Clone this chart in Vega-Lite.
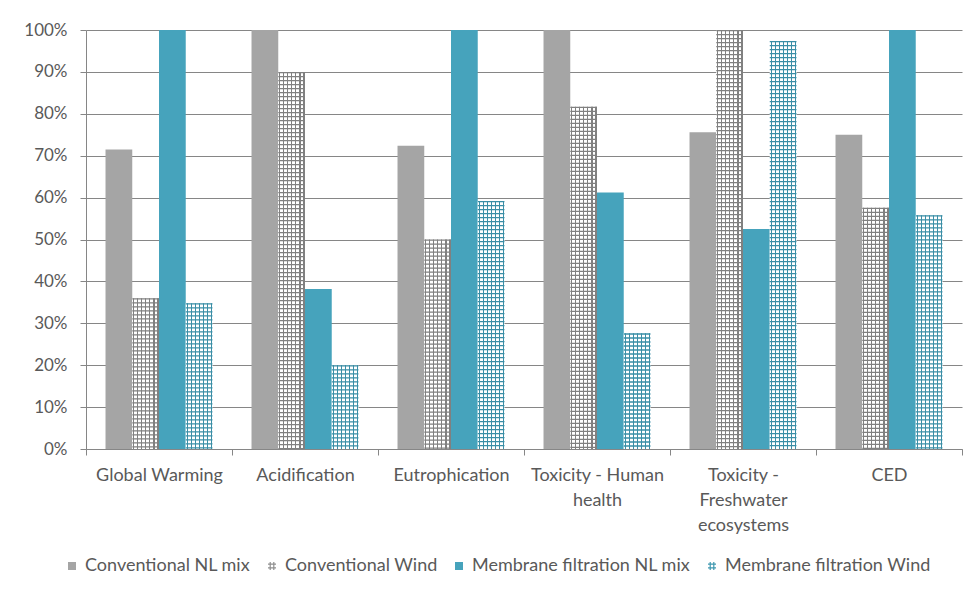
{
  "$schema": "https://vega.github.io/schema/vega-lite/v6.json",
  "width": 876,
  "height": 419,
  "autosize": {"type": "none"},
  "padding": {"left": 86, "top": 30, "right": 10, "bottom": 145},
  "background": "white",
  "data": {
    "values": [
      {"impact": "Global Warming", "series": "Conventional NL mix", "value": 0.715},
      {"impact": "Global Warming", "series": "Conventional Wind", "value": 0.36},
      {"impact": "Global Warming", "series": "Membrane filtration NL mix", "value": 1.0},
      {"impact": "Global Warming", "series": "Membrane filtration Wind", "value": 0.348},
      {"impact": "Acidification", "series": "Conventional NL mix", "value": 1.0},
      {"impact": "Acidification", "series": "Conventional Wind", "value": 0.9},
      {"impact": "Acidification", "series": "Membrane filtration NL mix", "value": 0.382},
      {"impact": "Acidification", "series": "Membrane filtration Wind", "value": 0.2},
      {"impact": "Eutrophication", "series": "Conventional NL mix", "value": 0.724},
      {"impact": "Eutrophication", "series": "Conventional Wind", "value": 0.5},
      {"impact": "Eutrophication", "series": "Membrane filtration NL mix", "value": 1.0},
      {"impact": "Eutrophication", "series": "Membrane filtration Wind", "value": 0.592},
      {"impact": "Toxicity - Human health", "series": "Conventional NL mix", "value": 1.0},
      {"impact": "Toxicity - Human health", "series": "Conventional Wind", "value": 0.817},
      {"impact": "Toxicity - Human health", "series": "Membrane filtration NL mix", "value": 0.612},
      {"impact": "Toxicity - Human health", "series": "Membrane filtration Wind", "value": 0.276},
      {"impact": "Toxicity - Freshwater ecosystems", "series": "Conventional NL mix", "value": 0.756},
      {"impact": "Toxicity - Freshwater ecosystems", "series": "Conventional Wind", "value": 1.0},
      {"impact": "Toxicity - Freshwater ecosystems", "series": "Membrane filtration NL mix", "value": 0.525},
      {"impact": "Toxicity - Freshwater ecosystems", "series": "Membrane filtration Wind", "value": 0.974},
      {"impact": "CED", "series": "Conventional NL mix", "value": 0.75},
      {"impact": "CED", "series": "Conventional Wind", "value": 0.576},
      {"impact": "CED", "series": "Membrane filtration NL mix", "value": 1.0},
      {"impact": "CED", "series": "Membrane filtration Wind", "value": 0.558}
    ]
  },
  "encoding": {
    "x": {
      "field": "impact",
      "type": "nominal",
      "sort": ["Global Warming", "Acidification", "Eutrophication", "Toxicity - Human health", "Toxicity - Freshwater ecosystems", "CED"],
      "scale": {"paddingInner": 0, "paddingOuter": 0},
      "axis": {
        "title": null,
        "labelAngle": 0,
        "tickBand": "extent",
        "tickSize": 6,
        "tickColor": "#868686",
        "domainColor": "#868686",
        "labelPadding": 11,
        "labelFontSize": 18,
        "labelLineHeight": 25,
        "labelExpr": "datum.value == 'Toxicity - Human health' ? ['Toxicity - Human', 'health'] : datum.value == 'Toxicity - Freshwater ecosystems' ? ['Toxicity -', 'Freshwater', 'ecosystems'] : datum.value",
        "grid": false
      }
    },
    "xOffset": {
      "field": "series",
      "type": "nominal",
      "scale": {
        "domain": ["Conventional NL mix", "Conventional Wind", "Membrane filtration NL mix", "Membrane filtration Wind"],
        "paddingInner": 0,
        "paddingOuter": 0.73
      }
    },
    "y": {
      "field": "value",
      "type": "quantitative",
      "scale": {"domain": [0, 1], "nice": false},
      "axis": {
        "title": null,
        "values": [0, 0.1, 0.2, 0.3, 0.4, 0.5, 0.6, 0.7, 0.8, 0.9, 1.0],
        "format": ".0%",
        "tickSize": 6,
        "tickColor": "#868686",
        "domainColor": "#868686",
        "labelPadding": 13,
        "gridColor": "#868686",
        "gridWidth": 1
      }
    }
  },
  "layer": [
    {
      "transform": [{"filter": "indexof(datum.series, 'NL mix') >= 0"}],
      "mark": {"type": "bar"},
      "encoding": {
        "fill": {
          "condition": {"test": "datum.series === 'Conventional NL mix'", "value": "#a5a5a5"},
          "value": "#46a3bc"
        }
      }
    },
    {
      "transform": [{"filter": "datum.series === 'Conventional Wind'"}],
      "mark": {
        "type": "bar",
        "fill": {
          "gradient": "linear", "x1": 0, "y1": 0, "x2": 1, "y2": 0,
          "stops": [
            {"offset": 0, "color": "#ffffff"},
            {"offset": 0.034, "color": "#ffffff"}, {"offset": 0.034, "color": "#808080"}, {"offset": 0.082, "color": "#808080"}, {"offset": 0.082, "color": "#ffffff"},
            {"offset": 0.184, "color": "#ffffff"}, {"offset": 0.184, "color": "#808080"}, {"offset": 0.232, "color": "#808080"}, {"offset": 0.232, "color": "#ffffff"},
            {"offset": 0.334, "color": "#ffffff"}, {"offset": 0.334, "color": "#808080"}, {"offset": 0.382, "color": "#808080"}, {"offset": 0.382, "color": "#ffffff"},
            {"offset": 0.484, "color": "#ffffff"}, {"offset": 0.484, "color": "#808080"}, {"offset": 0.532, "color": "#808080"}, {"offset": 0.532, "color": "#ffffff"},
            {"offset": 0.634, "color": "#ffffff"}, {"offset": 0.634, "color": "#808080"}, {"offset": 0.682, "color": "#808080"}, {"offset": 0.682, "color": "#ffffff"},
            {"offset": 0.784, "color": "#ffffff"}, {"offset": 0.784, "color": "#808080"}, {"offset": 0.832, "color": "#808080"}, {"offset": 0.832, "color": "#ffffff"},
            {"offset": 0.934, "color": "#ffffff"}, {"offset": 0.934, "color": "#808080"}, {"offset": 0.982, "color": "#808080"}, {"offset": 0.982, "color": "#ffffff"},
            {"offset": 1, "color": "#ffffff"}
          ]
        }
      }
    },
    {
      "transform": [{"filter": "datum.series === 'Membrane filtration Wind'"}],
      "mark": {
        "type": "bar",
        "fill": {
          "gradient": "linear", "x1": 0, "y1": 0, "x2": 1, "y2": 0,
          "stops": [
            {"offset": 0, "color": "#ffffff"},
            {"offset": 0.034, "color": "#ffffff"}, {"offset": 0.034, "color": "#3a8ea6"}, {"offset": 0.082, "color": "#3a8ea6"}, {"offset": 0.082, "color": "#ffffff"},
            {"offset": 0.184, "color": "#ffffff"}, {"offset": 0.184, "color": "#3a8ea6"}, {"offset": 0.232, "color": "#3a8ea6"}, {"offset": 0.232, "color": "#ffffff"},
            {"offset": 0.334, "color": "#ffffff"}, {"offset": 0.334, "color": "#3a8ea6"}, {"offset": 0.382, "color": "#3a8ea6"}, {"offset": 0.382, "color": "#ffffff"},
            {"offset": 0.484, "color": "#ffffff"}, {"offset": 0.484, "color": "#3a8ea6"}, {"offset": 0.532, "color": "#3a8ea6"}, {"offset": 0.532, "color": "#ffffff"},
            {"offset": 0.634, "color": "#ffffff"}, {"offset": 0.634, "color": "#3a8ea6"}, {"offset": 0.682, "color": "#3a8ea6"}, {"offset": 0.682, "color": "#ffffff"},
            {"offset": 0.784, "color": "#ffffff"}, {"offset": 0.784, "color": "#3a8ea6"}, {"offset": 0.832, "color": "#3a8ea6"}, {"offset": 0.832, "color": "#ffffff"},
            {"offset": 0.934, "color": "#ffffff"}, {"offset": 0.934, "color": "#3a8ea6"}, {"offset": 0.982, "color": "#3a8ea6"}, {"offset": 0.982, "color": "#ffffff"},
            {"offset": 1, "color": "#ffffff"}
          ]
        }
      }
    },
    {
      "transform": [{"filter": "indexof(datum.series, 'Wind') >= 0"}],
      "mark": {"type": "rule", "strokeWidth": 26.7, "strokeDash": [1.3, 2.7], "strokeCap": "butt"},
      "encoding": {
        "y2": {"datum": 0},
        "stroke": {
          "condition": {"test": "datum.series === 'Conventional Wind'", "value": "#808080"},
          "value": "#3a8ea6"
        }
      }
    },
    {
      "mark": {"type": "point", "filled": true, "opacity": 0},
      "encoding": {
        "fill": {
          "field": "series",
          "type": "nominal",
          "scale": {
            "domain": ["Conventional NL mix", "Conventional Wind", "Membrane filtration NL mix", "Membrane filtration Wind"],
            "range": ["#a5a5a5", "#8f8f8f", "#46a3bc", "#3f98b0"]
          },
          "legend": {
            "title": null,
            "orient": "none",
            "legendX": -23,
            "legendY": 527,
            "direction": "horizontal",
            "symbolSize": 64,
            "symbolOpacity": 1,
            "symbolStrokeWidth": 0,
            "labelFontSize": 18,
            "labelLimit": 400,
            "labelOffset": 4,
            "columnPadding": 12
          }
        },
        "shape": {
          "field": "series",
          "type": "nominal",
          "scale": {
            "domain": ["Conventional NL mix", "Conventional Wind", "Membrane filtration NL mix", "Membrane filtration Wind"],
            "range": [
              "M-1,-1H1V1H-1Z",
              "M-0.6,-1H-0.3V1H-0.6Z M0.3,-1H0.6V1H0.3Z M-1,-0.6H1V-0.3H-1Z M-1,0.3H1V0.6H-1Z",
              "M-1,-1H1V1H-1Z",
              "M-0.6,-1H-0.3V1H-0.6Z M0.3,-1H0.6V1H0.3Z M-1,-0.6H1V-0.3H-1Z M-1,0.3H1V0.6H-1Z"
            ]
          },
          "legend": {
            "title": null,
            "orient": "none",
            "legendX": -23,
            "legendY": 527,
            "direction": "horizontal",
            "symbolSize": 64,
            "symbolOpacity": 1,
            "symbolStrokeWidth": 0,
            "labelFontSize": 18,
            "labelLimit": 400,
            "labelOffset": 4,
            "columnPadding": 12
          }
        }
      }
    }
  ],
  "config": {
    "font": "Lato",
    "view": {"stroke": null},
    "axis": {
      "labelFont": "Lato",
      "labelFontSize": 17,
      "labelColor": "#595959"
    },
    "legend": {
      "labelFont": "Lato",
      "labelColor": "#595959",
      "labelFontSize": 18
    }
  }
}
